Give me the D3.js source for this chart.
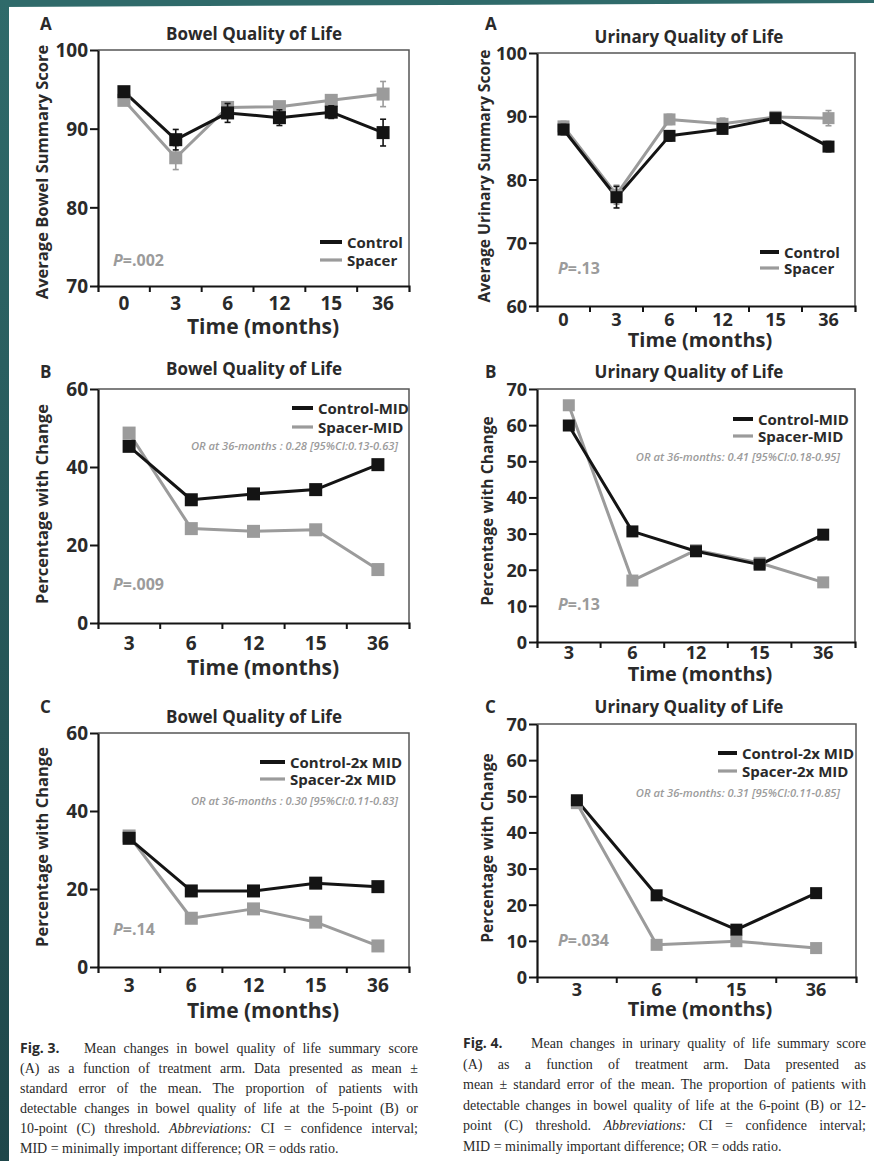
<!DOCTYPE html>
<html>
<head>
<meta charset="utf-8">
<script src="https://cdn.jsdelivr.net/npm/d3@7"></script>
<style>
  body { margin: 0; background: #fff; }
  svg { display: block; }
</style>
</head>
<body>
<svg id="fig" width="874" height="1161"></svg>
<script>
// Categories
const monthsA = ['0', '3', '6', '12', '15', '36']
const monthsB = ['3', '6', '12', '15', '36']
const monthsUrinaryC = ['3', '6', '15', '36']

// Bowel A: mean and standard error
const bowelAControl = [94.7, 88.6, 92.0, 91.4, 92.1, 89.5]
const bowelAControlSE = [0.5, 1.3, 1.2, 1.0, 0.8, 1.7]
const bowelASpacer = [93.6, 86.3, 92.7, 92.8, 93.6, 94.4]
const bowelASpacerSE = [0.5, 1.5, 0.6, 0.5, 0.5, 1.6]

// Urinary A: mean and standard error
const urinaryAControl = [87.9, 77.2, 86.9, 88.0, 89.7, 85.2]
const urinaryAControlSE = [0.8, 1.7, 0.8, 0.7, 0.6, 0.8]
const urinaryASpacer = [88.4, 77.6, 89.5, 88.8, 89.9, 89.7]
const urinaryASpacerSE = [0.8, 1.5, 0.8, 0.9, 0.6, 1.2]

// Percentage with change
const bowelBControl = [45.3, 31.6, 33.1, 34.2, 40.6]
const bowelBSpacer = [48.7, 24.2, 23.5, 23.9, 13.7]
const urinaryBControl = [59.9, 30.6, 25.1, 21.4, 29.7]
const urinaryBSpacer = [65.5, 17.0, 25.4, 21.9, 16.5]
const bowelCControl = [33.0, 19.5, 19.5, 21.5, 20.6]
const bowelCSpacer = [33.6, 12.5, 14.9, 11.5, 5.4]
const urinaryCControl = [48.9, 22.6, 13.1, 23.2]
const urinaryCSpacer = [48.1, 8.9, 9.9, 8.0]

// Tick labels
const bowelATicks = [70, 80, 90, 100]
const urinaryATicks = [60, 70, 80, 90, 100]
const bowelPctTicks = [0, 20, 40, 60]
const urinaryPctTicks = [0, 10, 20, 30, 40, 50, 60, 70]

const FONT = '"Open Sans", "DejaVu Sans", sans-serif'
const SERIF = '"Liberation Serif", "Times New Roman", serif'
const INK = '#2a2a2a'
const BLACK = '#141414'
const GREY = '#9b9b9b'

const panels = [
    {
        letter: 'A', title: 'Bowel Quality of Life', months: monthsA,
        control: bowelAControl, controlSE: bowelAControlSE, spacer: bowelASpacer, spacerSE: bowelASpacerSE,
        yDomain: [70, 100], yTicks: bowelATicks, yLabel: 'Average Bowel Summary Score',
        legend: ['Control', 'Spacer'], p: '=.002',
        box: { x0: 98, x1: 409, y0: 50, y1: 286 }, tickDy: 24, xTitleDy: 48, xTitleX: 263,
        titleAt: [254, 40], letterAt: [40, 30], yLabelAt: [48, 172],
        legendAt: { x: 320, tx: 347, y: [242, 260] }, pAt: [113, 266], marker: 13, fs: 1
    },
    {
        letter: 'A', title: 'Urinary Quality of Life', months: monthsA,
        control: urinaryAControl, controlSE: urinaryAControlSE, spacer: urinaryASpacer, spacerSE: urinaryASpacerSE,
        yDomain: [60, 100], yTicks: urinaryATicks, yLabel: 'Average Urinary Summary Score',
        legend: ['Control', 'Spacer'], p: '=.13',
        box: { x0: 537, x1: 855, y0: 53, y1: 306 }, tickDy: 20, xTitleDy: 41, xTitleX: 700,
        titleAt: [689, 43], letterAt: [485, 30], yLabelAt: [490, 176],
        legendAt: { x: 760, tx: 784, y: [252, 268] }, pAt: [558, 274], marker: 12, fs: 0.95
    },
    {
        letter: 'B', title: 'Bowel Quality of Life', months: monthsB,
        control: bowelBControl, spacer: bowelBSpacer,
        yDomain: [0, 60], yTicks: bowelPctTicks, yLabel: 'Percentage with Change',
        legend: ['Control-MID', 'Spacer-MID'], p: '=.009',
        or: 'OR at 36-months : 0.28 [95%CI:0.13-0.63]',
        box: { x0: 98, x1: 409, y0: 389, y1: 623 }, tickDy: 27, xTitleDy: 52, xTitleX: 263,
        titleAt: [254, 375], letterAt: [40, 378], yLabelAt: [48, 504],
        legendAt: { x: 292, tx: 318, y: [408, 427] }, orAt: [398, 450], pAt: [113, 590], marker: 13, fs: 1
    },
    {
        letter: 'B', title: 'Urinary Quality of Life', months: monthsB,
        control: urinaryBControl, spacer: urinaryBSpacer,
        yDomain: [0, 70], yTicks: urinaryPctTicks, yLabel: 'Percentage with Change',
        legend: ['Control-MID', 'Spacer-MID'], p: '=.13',
        or: 'OR at 36-months: 0.41 [95%CI:0.18-0.95]',
        box: { x0: 537, x1: 855, y0: 389, y1: 642 }, tickDy: 17, xTitleDy: 39, xTitleX: 700,
        titleAt: [689, 378], letterAt: [485, 378], yLabelAt: [493, 511],
        legendAt: { x: 733, tx: 758, y: [419, 436] }, orAt: [840, 461], pAt: [558, 610], marker: 12, fs: 0.95
    },
    {
        letter: 'C', title: 'Bowel Quality of Life', months: monthsB,
        control: bowelCControl, spacer: bowelCSpacer,
        yDomain: [0, 60], yTicks: bowelPctTicks, yLabel: 'Percentage with Change',
        legend: ['Control-2x MID', 'Spacer-2x MID'], p: '=.14',
        or: 'OR at 36-months : 0.30 [95%CI:0.11-0.83]',
        box: { x0: 98, x1: 409, y0: 733, y1: 967 }, tickDy: 25, xTitleDy: 51, xTitleX: 263,
        titleAt: [254, 723], letterAt: [40, 713], yLabelAt: [48, 847],
        legendAt: { x: 260, tx: 290, y: [762, 779] }, orAt: [398, 805], pAt: [113, 935], marker: 13, fs: 1
    },
    {
        letter: 'C', title: 'Urinary Quality of Life', months: monthsUrinaryC,
        control: urinaryCControl, spacer: urinaryCSpacer,
        yDomain: [0, 70], yTicks: urinaryPctTicks, yLabel: 'Percentage with Change',
        legend: ['Control-2x MID', 'Spacer-2x MID'], p: '=.034',
        or: 'OR at 36-months: 0.31 [95%CI:0.11-0.85]',
        box: { x0: 537, x1: 856, y0: 724, y1: 977 }, tickDy: 19, xTitleDy: 39, xTitleX: 700,
        titleAt: [689, 713], letterAt: [485, 713], yLabelAt: [493, 848],
        legendAt: { x: 718, tx: 742, y: [753, 771] }, orAt: [840, 797], pAt: [558, 946], marker: 12, fs: 0.95
    }
]

const svg = d3.select('#fig').style('font-family', FONT)

// Background and teal slide frame
svg.append('rect').attr('width', 874).attr('height', 1161).attr('fill', '#fff')
const grad = svg.append('defs').append('linearGradient')
    .attr('id', 'teal').attr('x1', 0).attr('y1', 0).attr('x2', 0).attr('y2', 1)
grad.append('stop').attr('offset', '0%').attr('stop-color', '#2f6a6a')
grad.append('stop').attr('offset', '100%').attr('stop-color', '#1f474a')
svg.append('path').attr('d', 'M0,0H874V3L0,7Z').attr('fill', '#2f6a6a')
svg.append('rect').attr('width', 9).attr('height', 1161).attr('fill', 'url(#teal)')

const drawPanel = p => {
    const g = svg.append('g')
    const { x0, x1, y0, y1 } = p.box
    const x = d3.scaleBand().domain(p.months).range([x0, x1])
    const y = d3.scaleLinear().domain(p.yDomain).range([y1, y0])
    const cx = m => x(m) + x.bandwidth() / 2

    // Frame (top / right)
    g.append('path')
        .attr('d', `M${x0},${y0}H${x1}V${y1}`)
        .attr('fill', 'none').attr('stroke', '#555').attr('stroke-width', 1.5)

    // Y axis
    const yAxis = g.append('g')
        .attr('transform', `translate(${x0},0)`)
        .call(d3.axisLeft(y).tickValues(p.yTicks).tickSize(8).tickPadding(2).tickSizeOuter(0))
        .attr('font-family', null).attr('font-size', null)
    yAxis.select('.domain').attr('stroke', BLACK).attr('stroke-width', 2.2)
    yAxis.selectAll('.tick line').attr('stroke', BLACK).attr('stroke-width', 2)
    yAxis.selectAll('.tick text')
        .attr('font-size', 19 * p.fs).attr('font-weight', 700).attr('fill', INK).attr('dy', '0.36em')

    // X axis, ticks on band boundaries
    const xAxis = g.append('g')
        .attr('transform', `translate(0,${y1})`)
        .call(d3.axisBottom(x).tickSizeInner(0).tickSizeOuter(6))
        .attr('font-family', null).attr('font-size', null)
    xAxis.select('.domain').attr('stroke', BLACK).attr('stroke-width', 2.2)
    xAxis.selectAll('.tick text')
        .attr('y', p.tickDy).attr('dy', 0)
        .attr('font-size', 19 * p.fs).attr('font-weight', 700).attr('fill', INK)
    xAxis.selectAll('line.bound')
        .data(p.months.slice(1))
        .join('line')
        .attr('class', 'bound')
        .attr('x1', d => x(d)).attr('x2', d => x(d))
        .attr('y1', 0).attr('y2', 6)
        .attr('stroke', BLACK).attr('stroke-width', 2)

    // Labels
    g.append('text')
        .attr('x', p.titleAt[0]).attr('y', p.titleAt[1])
        .attr('text-anchor', 'middle').attr('font-size', 17).attr('font-weight', 700).attr('fill', INK)
        .text(p.title)
    g.append('text')
        .attr('x', p.letterAt[0]).attr('y', p.letterAt[1])
        .attr('font-size', 17).attr('font-weight', 700).attr('fill', INK)
        .text(p.letter)
    g.append('text')
        .attr('transform', `translate(${p.yLabelAt[0]},${p.yLabelAt[1]}) rotate(-90)`)
        .attr('text-anchor', 'middle').attr('font-size', 16.5 * p.fs).attr('font-weight', 700).attr('fill', INK)
        .text(p.yLabel)
    g.append('text')
        .attr('x', p.xTitleX).attr('y', y1 + p.xTitleDy)
        .attr('text-anchor', 'middle').attr('font-size', 21 * p.fs).attr('font-weight', 700).attr('fill', INK)
        .text('Time (months)')

    // Series: spacer below, control on top
    const series = [
        { values: p.spacer, se: p.spacerSE, color: GREY, width: 3 },
        { values: p.control, se: p.controlSE, color: BLACK, width: 3 }
    ]
    const line = d3.line()
        .x((_, i) => cx(p.months[i]))
        .y(v => y(v))

    series.forEach(s => {
        g.append('path')
            .attr('d', line(s.values))
            .attr('fill', 'none').attr('stroke', s.color).attr('stroke-width', s.width)
            .attr('stroke-linejoin', 'round')
    })
    series.forEach(s => {
        if (s.se) {
            const bars = g.append('g').attr('stroke', s.color).attr('stroke-width', 1.6)
            s.values.forEach((v, i) => {
                const xc = cx(p.months[i])
                const lo = y(v - s.se[i])
                const hi = y(v + s.se[i])
                bars.append('line').attr('x1', xc).attr('x2', xc).attr('y1', lo).attr('y2', hi)
                bars.append('line').attr('x1', xc - 3).attr('x2', xc + 3).attr('y1', lo).attr('y2', lo)
                bars.append('line').attr('x1', xc - 3).attr('x2', xc + 3).attr('y1', hi).attr('y2', hi)
            })
        }
        g.append('g').selectAll('rect')
            .data(s.values)
            .join('rect')
            .attr('x', (_, i) => cx(p.months[i]) - p.marker / 2)
            .attr('y', v => y(v) - p.marker / 2)
            .attr('width', p.marker).attr('height', p.marker)
            .attr('fill', s.color)
    })

    // Legend
    const L = p.legendAt
    ;[BLACK, GREY].forEach((color, i) => {
        g.append('line')
            .attr('x1', L.x).attr('x2', L.tx - 5)
            .attr('y1', L.y[i]).attr('y2', L.y[i])
            .attr('stroke', color).attr('stroke-width', i === 0 ? 4 : 3.2)
        g.append('text')
            .attr('x', L.tx).attr('y', L.y[i] + 5.5)
            .attr('font-size', 15).attr('font-weight', 700).attr('fill', INK)
            .text(p.legend[i])
    })

    // Odds ratio note
    if (p.or) {
        g.append('text')
            .attr('x', p.orAt[0]).attr('y', p.orAt[1])
            .attr('text-anchor', 'end')
            .attr('font-size', 11.2).attr('font-style', 'italic').attr('font-weight', 600).attr('fill', GREY)
            .text(p.or)
    }

    // P value
    const pt = g.append('text')
        .attr('x', p.pAt[0]).attr('y', p.pAt[1])
        .attr('font-size', 16).attr('font-weight', 700).attr('fill', GREY)
    pt.append('tspan').attr('font-style', 'italic').text('P')
    pt.append('tspan').text(p.p)
}

panels.forEach(drawPanel)

// Captions
const captionLeft = [
    [['Mean changes in bowel quality of life summary score']],
    [['(A) as a function of treatment arm. Data presented as mean \u00b1']],
    [['standard error of the mean. The proportion of patients with']],
    [['detectable changes in bowel quality of life at the 5-point (B) or']],
    [['10-point (C) threshold. '], ['Abbreviations:', 'i'], [' CI = confidence interval;']],
    [['MID = minimally important difference; OR = odds ratio.']]
]
const captionRight = [
    [['Mean changes in urinary quality of life summary score']],
    [['(A) as a function of treatment arm. Data presented as']],
    [['mean \u00b1 standard error of the mean. The proportion of patients with']],
    [['detectable changes in bowel quality of life at the 6-point (B) or 12-']],
    [['point (C) threshold. '], ['Abbreviations:', 'i'], [' CI = confidence interval;']],
    [['MID = minimally important difference; OR = odds ratio.']]
]

const drawCaption = (label, lines, x0, xStart, x1, yTop, step) => {
    svg.append('text')
        .attr('x', x0).attr('y', yTop)
        .attr('font-size', 14).attr('font-weight', 700).attr('fill', INK)
        .text(label)
    lines.forEach((parts, i) => {
        const left = i === 0 ? xStart : x0
        const t = svg.append('text')
            .attr('x', left).attr('y', yTop + i * step)
            .style('font-family', SERIF)
            .attr('font-size', 14).attr('fill', INK)
        parts.forEach(([s, style]) => {
            const ts = t.append('tspan').text(s)
            if (style === 'i') ts.attr('font-style', 'italic')
        })
        if (i < lines.length - 1) {
            const natural = t.node().getComputedTextLength()
            const spaces = parts.map(d => d[0]).join('').split(' ').length - 1
            t.style('word-spacing', `${(x1 - left - natural) / spaces}px`)
        }
    })
}

drawCaption('Fig. 3.', captionLeft, 20, 84, 418, 1053, 20)
drawCaption('Fig. 4.', captionRight, 463, 531, 866, 1048, 20.6)
</script>
</body>
</html>
